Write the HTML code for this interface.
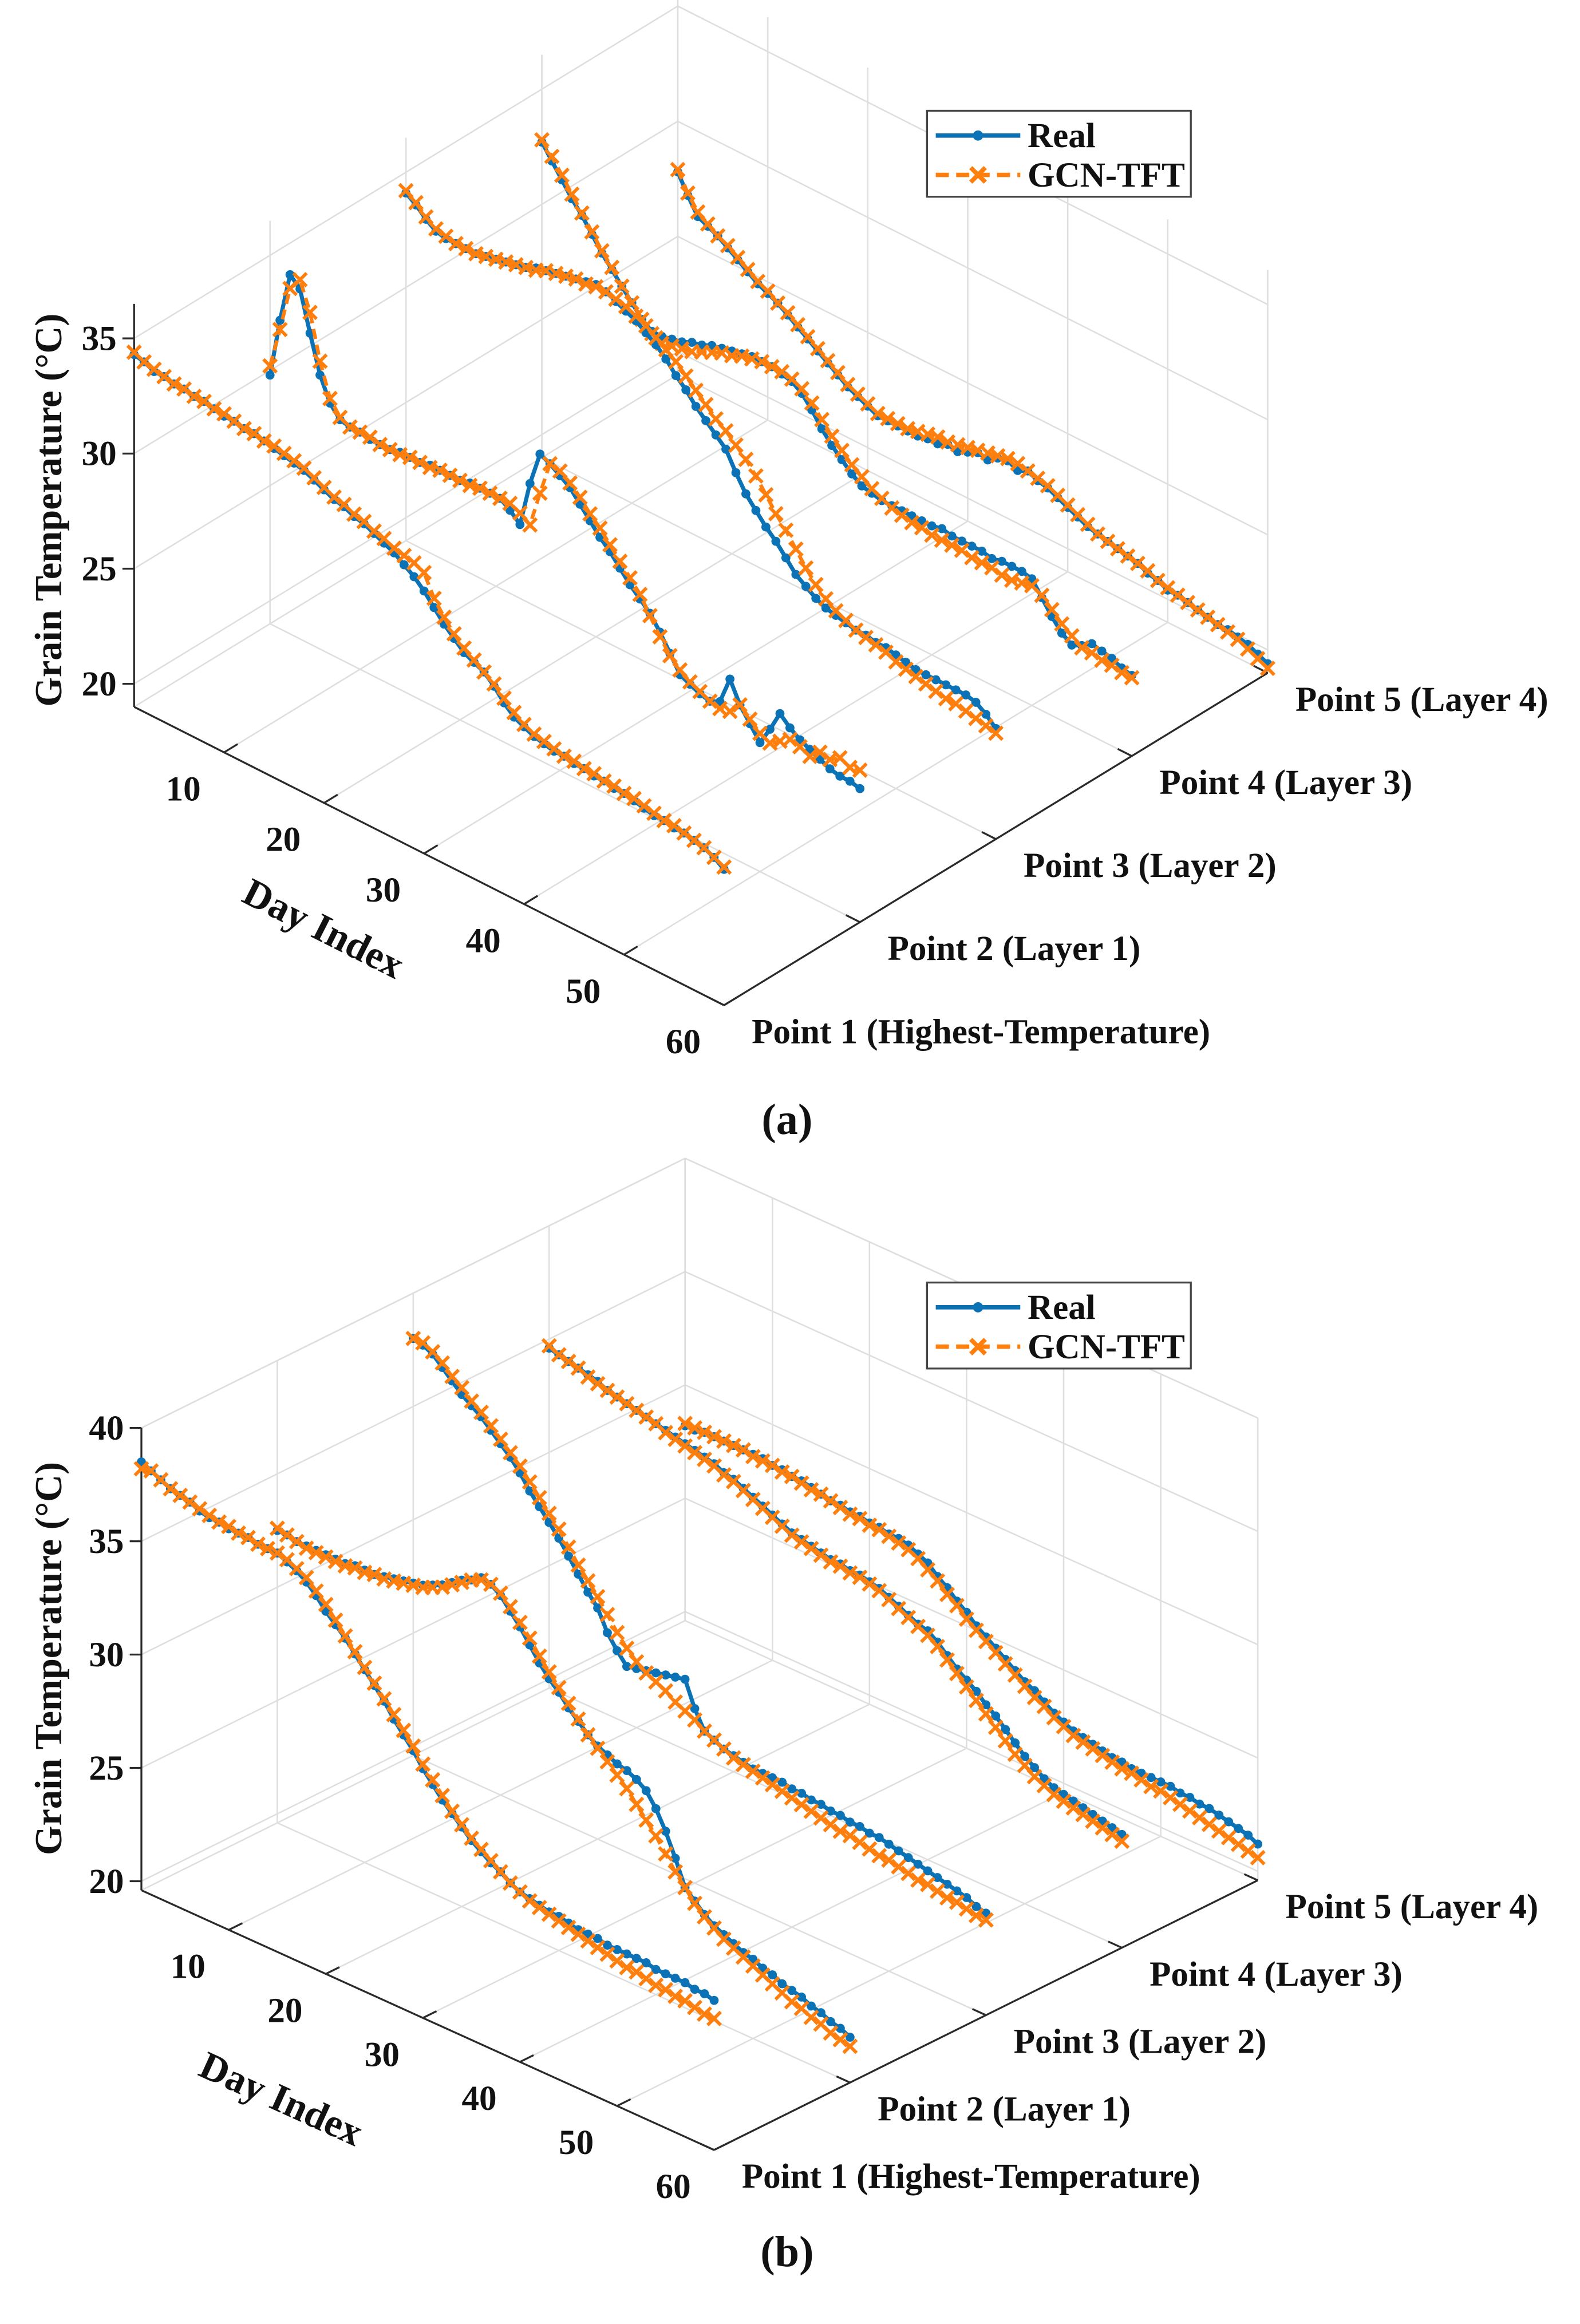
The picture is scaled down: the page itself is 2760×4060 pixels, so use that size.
<!DOCTYPE html>
<html><head><meta charset="utf-8">
<style>
html,body{margin:0;padding:0;background:#fff;}
svg{display:block;}
text{font-family:"Liberation Serif",serif;font-weight:bold;fill:#111;}
</style></head>
<body>
<svg id="fig" width="2760" height="4060" viewBox="0 0 1084 1594.6" preserveAspectRatio="none" xmlns="http://www.w3.org/2000/svg"></svg>
<script>
// ---- data: panel (a) ----
const days = Array.from({length:60},(_,i)=>i+1);
const pointLabels = ["Point 1 (Highest-Temperature)","Point 2 (Layer 1)","Point 3 (Layer 2)","Point 4 (Layer 3)","Point 5 (Layer 4)"];
const dayTicks = [10,20,30,40,50,60];
const zTicksA = [20,25,30,35];
const zTicksB = [20,25,30,35,40];

const aReal1=[34.3,34.2,34.0,34.0,33.9,33.9,33.8,33.8,33.7,33.6,33.6,33.5,33.5,33.4,33.3,33.2,33.1,33.0,32.8,32.6,32.4,32.3,32.1,32.0,31.8,31.6,31.4,31.1,30.8,30.4,29.9,29.4,29.0,28.6,28.4,28.2,27.8,27.3,26.9,26.7,26.5,26.4,26.3,26.3,26.2,26.2,26.1,26.1,26.0,26.0,25.9,25.8,25.7,25.7,25.6,25.6,25.5,25.4,25.2,24.9];
const aPred1=[34.4,34.2,34.1,34.0,33.9,33.9,33.8,33.8,33.7,33.7,33.6,33.5,33.5,33.4,33.4,33.3,33.2,33.1,32.9,32.7,32.5,32.4,32.2,32.1,31.9,31.8,31.6,31.5,31.4,31.2,30.3,29.7,29.2,28.8,28.5,28.2,27.9,27.5,27.1,26.8,26.6,26.5,26.4,26.3,26.3,26.2,26.2,26.1,26.1,26.0,26.0,25.9,25.8,25.7,25.7,25.6,25.5,25.4,25.2,25.0];
const aReal2=[29.8,32.4,34.6,34.2,32.5,30.9,29.9,29.4,29.3,29.3,29.2,29.2,29.2,29.3,29.3,29.3,29.4,29.4,29.4,29.4,29.5,29.5,29.5,29.5,29.2,28.8,30.8,32.3,32.1,31.8,31.5,31.0,30.5,30.0,29.6,29.1,28.6,28.2,27.8,27.2,26.5,25.8,25.6,25.4,25.3,25.5,26.7,25.8,25.2,24.6,25.4,26.3,25.9,25.6,25.4,25.2,25.0,24.9,24.9,24.8];
const aPred2=[30.2,32.0,34.0,34.6,33.4,31.5,30.1,29.5,29.3,29.3,29.3,29.2,29.2,29.2,29.3,29.3,29.3,29.4,29.4,29.4,29.4,29.5,29.5,29.5,29.5,29.3,29.0,30.6,32.1,32.0,31.7,31.3,30.8,30.4,29.9,29.4,28.9,28.4,27.7,27.0,26.4,26.0,25.7,25.5,25.3,25.2,25.3,25.8,25.4,25.0,24.8,25.1,25.4,25.3,25.1,25.5,25.4,25.7,25.5,25.6];
const aReal3=[34.1,33.8,33.4,33.1,33.0,33.0,33.0,33.0,33.1,33.2,33.3,33.4,33.5,33.7,33.8,33.9,34.0,34.1,34.2,34.3,34.2,34.0,33.8,33.6,33.3,33.0,32.6,32.1,31.7,31.2,30.8,30.4,30.0,29.2,28.5,28.0,27.5,27.1,26.6,26.1,25.8,25.5,25.3,25.2,25.1,25.0,25.0,24.9,24.9,24.8,24.7,24.6,24.6,24.6,24.6,24.6,24.6,24.5,24.2,23.8];
const aPred3=[34.2,33.9,33.5,33.2,33.1,33.0,33.0,33.0,33.1,33.2,33.3,33.4,33.5,33.6,33.8,33.9,34.0,34.1,34.1,34.2,34.2,34.1,34.0,33.8,33.6,33.3,33.0,32.7,32.3,31.9,31.5,31.1,30.8,30.4,30.0,29.5,28.9,28.3,27.8,27.2,26.6,26.1,25.7,25.4,25.2,25.0,24.9,24.8,24.7,24.5,24.4,24.3,24.2,24.1,24.0,24.0,23.9,23.8,23.7,23.6];
const aReal4=[32.7,32.1,31.5,30.9,30.4,29.8,29.2,28.7,28.2,27.7,27.2,26.9,26.9,27.0,27.1,27.3,27.4,27.6,27.7,27.8,27.9,28.0,28.0,28.0,27.9,27.8,27.5,27.0,26.4,25.9,25.5,25.1,24.8,24.7,24.6,24.6,24.6,24.6,24.6,24.6,24.7,24.6,24.6,24.6,24.6,24.5,24.6,24.6,24.6,24.5,23.9,23.3,22.8,22.5,22.7,23.0,22.9,22.8,22.6,22.5];
const aPred4=[32.8,32.3,31.7,31.1,30.5,29.9,29.3,28.8,28.2,27.7,27.2,26.8,26.6,26.7,26.8,26.9,27.1,27.3,27.5,27.6,27.8,27.9,28.0,28.0,28.0,27.9,27.7,27.3,26.8,26.3,25.9,25.5,25.2,24.9,24.7,24.5,24.4,24.3,24.3,24.2,24.2,24.2,24.2,24.1,24.1,24.1,24.0,24.0,24.1,24.2,24.0,23.6,23.2,22.9,22.6,22.6,22.5,22.5,22.4,22.4];
const aReal5=[27.8,27.0,26.3,26.1,25.9,25.6,25.3,25.0,24.7,24.5,24.3,24.0,23.7,23.4,23.1,22.8,22.5,22.2,22.0,21.8,21.6,21.6,21.6,21.6,21.6,21.7,21.7,21.9,21.8,22.0,22.2,22.1,22.4,22.5,22.3,22.5,22.3,22.2,22.0,21.8,21.6,21.4,21.3,21.2,21.1,21.0,20.9,20.7,20.6,20.4,20.4,20.3,20.2,20.1,20.0,20.0,19.9,19.8,19.6,19.4];
const aPred5=[27.9,27.1,26.5,26.2,25.9,25.7,25.4,25.1,24.8,24.6,24.3,24.1,23.8,23.5,23.2,22.9,22.6,22.3,22.1,21.9,21.7,21.7,21.7,21.7,21.8,21.9,22.0,22.0,22.1,22.2,22.3,22.4,22.5,22.6,22.6,22.5,22.4,22.3,22.1,21.9,21.7,21.5,21.3,21.2,21.1,21.0,20.9,20.8,20.6,20.5,20.4,20.3,20.2,20.1,20.0,19.9,19.8,19.6,19.4,19.2];

// ---- data: panel (b) ----
const bReal1=[38.5,38.3,38.1,37.9,37.8,37.7,37.5,37.4,37.4,37.3,37.3,37.3,37.2,37.2,37.2,37.0,36.8,36.5,36.1,35.6,35.2,34.8,34.3,33.8,33.3,32.8,32.2,31.7,31.2,30.6,30.1,29.6,29.2,28.8,28.4,28.1,27.8,27.6,27.3,27.1,27.0,26.9,26.8,26.8,26.7,26.6,26.6,26.6,26.5,26.5,26.5,26.5,26.5,26.4,26.4,26.4,26.4,26.3,26.3,26.2];
const bPred1=[38.2,38.3,38.1,37.9,37.8,37.7,37.6,37.5,37.4,37.4,37.3,37.3,37.2,37.2,37.2,37.1,36.9,36.7,36.3,35.9,35.4,34.9,34.4,33.9,33.4,32.9,32.4,31.9,31.4,30.8,30.3,29.8,29.3,28.9,28.5,28.2,27.9,27.6,27.3,27.1,26.9,26.8,26.7,26.6,26.5,26.4,26.3,26.2,26.1,26.0,25.9,25.9,25.8,25.7,25.7,25.6,25.6,25.5,25.4,25.4];
const bReal2=[32.5,32.5,32.4,32.4,32.4,32.4,32.4,32.4,32.5,32.5,32.5,32.6,32.7,32.8,32.9,33.0,33.2,33.4,33.7,34.0,34.2,34.5,34.4,34.1,33.6,33.1,32.5,31.9,31.4,31.0,30.5,30.1,29.7,29.4,29.2,29.0,28.9,28.7,28.4,27.8,27.0,26.0,24.9,24.5,24.1,23.8,23.6,23.4,23.2,23.1,22.9,22.8,22.6,22.5,22.4,22.2,22.1,21.9,21.8,21.6];
const bPred2=[32.6,32.5,32.4,32.3,32.3,32.3,32.3,32.3,32.4,32.4,32.5,32.5,32.6,32.7,32.8,32.9,33.1,33.3,33.6,33.9,34.2,34.4,34.4,34.2,33.8,33.3,32.8,32.2,31.7,31.2,30.7,30.2,29.7,29.3,28.9,28.5,28.1,27.6,27.1,26.6,26.0,25.4,24.9,24.4,24.0,23.7,23.4,23.2,23.0,22.8,22.6,22.4,22.2,22.0,21.9,21.7,21.6,21.4,21.3,21.2];
const bReal3=[38.0,37.9,37.7,37.3,36.9,36.5,36.2,35.9,35.5,35.1,34.7,34.2,33.6,33.1,32.6,32.1,31.5,30.9,30.3,29.8,28.9,28.3,27.8,27.9,28.0,28.1,28.2,28.3,28.4,27.3,26.5,26.3,26.1,26.0,25.9,25.8,25.8,25.8,25.8,25.7,25.7,25.6,25.6,25.5,25.5,25.4,25.4,25.3,25.3,25.2,25.1,25.0,24.9,24.8,24.7,24.6,24.5,24.4,24.2,24.1];
const bPred3=[38.0,38.0,37.8,37.5,37.1,36.8,36.4,36.1,35.7,35.3,34.9,34.5,34.0,33.5,33.0,32.5,31.9,31.3,30.8,30.3,29.7,29.1,28.6,28.2,27.9,27.7,27.5,27.2,27.0,26.8,26.5,26.3,26.1,25.9,25.8,25.7,25.6,25.5,25.4,25.3,25.2,25.1,25.0,24.9,24.8,24.8,24.7,24.6,24.5,24.5,24.4,24.3,24.2,24.2,24.1,24.0,24.0,23.9,23.8,23.8];
const bReal4=[34.6,34.5,34.4,34.3,34.2,34.1,33.9,33.8,33.7,33.6,33.5,33.4,33.3,33.2,33.1,33.0,32.9,32.8,32.6,32.5,32.3,32.1,31.9,31.7,31.5,31.3,31.2,31.1,31.0,30.9,30.9,30.8,30.8,30.7,30.6,30.4,30.2,30.0,29.8,29.7,29.4,29.0,28.6,28.3,28.0,27.6,27.3,26.9,26.5,26.1,25.8,25.5,25.3,25.2,25.1,25.0,24.9,24.8,24.7,24.6];
const bPred4=[34.7,34.5,34.4,34.3,34.1,34.0,33.9,33.8,33.7,33.6,33.5,33.4,33.2,33.1,33.0,32.9,32.8,32.7,32.5,32.4,32.2,32.0,31.8,31.6,31.4,31.2,31.1,31.0,30.9,30.8,30.8,30.7,30.7,30.6,30.5,30.3,30.1,29.9,29.7,29.5,29.2,28.8,28.4,28.0,27.6,27.2,26.8,26.4,26.0,25.7,25.4,25.2,25.0,24.9,24.8,24.7,24.6,24.5,24.4,24.3];
const bReal5=[28.2,28.2,28.3,28.3,28.3,28.3,28.3,28.3,28.3,28.2,28.2,28.1,28.1,28.0,27.9,27.8,27.8,27.7,27.7,27.6,27.6,27.5,27.5,27.4,27.2,27.0,26.6,26.3,25.9,25.6,25.2,24.9,24.6,24.3,24.0,23.7,23.5,23.2,22.9,22.7,22.5,22.4,22.3,22.2,22.1,22.1,22.0,22.0,22.0,22.0,22.0,21.9,21.9,21.8,21.8,21.7,21.6,21.5,21.4,21.2];
const bPred5=[28.3,28.3,28.3,28.3,28.3,28.3,28.3,28.2,28.2,28.2,28.1,28.1,28.0,27.9,27.9,27.8,27.7,27.6,27.6,27.5,27.5,27.4,27.3,27.2,27.0,26.7,26.4,26.0,25.7,25.3,25.0,24.7,24.4,24.1,23.8,23.5,23.2,23.0,22.7,22.5,22.3,22.2,22.1,22.0,21.9,21.8,21.8,21.7,21.6,21.6,21.5,21.4,21.3,21.2,21.1,21.0,20.9,20.8,20.7,20.6];

const realA=[aReal1,aReal2,aReal3,aReal4,aReal5];
const predA=[aPred1,aPred2,aPred3,aPred4,aPred5];
const realB=[bReal1,bReal2,bReal3,bReal4,bReal5];
const predB=[bPred1,bPred2,bPred3,bPred4,bPred5];

const BLUE="#0a72b5", ORANGE="#ff7f0e", GRID="#dedede", AX="#2a2a2a";
const NS="http://www.w3.org/2000/svg";
const svg=document.getElementById('fig');
function el(tag,attrs,parent){const e=document.createElementNS(NS,tag);for(const k in attrs)e.setAttribute(k,attrs[k]);(parent||svg).appendChild(e);return e;}

const panels=[
 {id:'a',ox:92,oy:485,edx:6.86,edy:3.47,epx:93.25,epy:-57,ez:15.8,zmin:19,zmax:36.5,zt:zTicksA,real:realA,pred:predA,
  ztitle:[33,350],dtitle:[222,637],legY:76,cap:[540,768]},
 {id:'b',ox:97,oy:1297,edx:6.66,edy:3.02,epx:93.25,epy:-46.25,ez:15.55,zmin:19.6,zmax:40,zt:zTicksB,real:realB,pred:predB,
  ztitle:[33,1138],dtitle:[193,1440],legY:880,cap:[540,1545]}
];

panels.forEach(P=>{
 const X=(d,p,z)=>P.ox+(d-1)*P.edx+(p-1)*P.epx;
 const Y=(d,p,z)=>P.oy+(d-1)*P.edy+(p-1)*P.epy-(z-P.zmin)*P.ez;
 const g=el('g',{});
 
 
 const grid=el('g',{stroke:GRID,'stroke-width':1,fill:'none'},g);
 
 
 const line=(a,b,par,attrs)=>el('line',Object.assign({x1:X(...a),y1:Y(...a),x2:X(...b),y2:Y(...b)},attrs||{}),par);
 for(let p=2;p<=5;p++) line([1,p,P.zmin],[60,p,P.zmin],grid);
 [1].concat(dayTicks).forEach(d=>line([d,1,P.zmin],[d,5,P.zmin],grid));
 for(let p=1;p<=5;p++) line([1,p,P.zmin],[1,p,P.zmax],grid);
 P.zt.forEach(z=>line([1,1,z],[1,5,z],grid));
 [1].concat(dayTicks).forEach(d=>line([d,5,P.zmin],[d,5,P.zmax],grid));
 P.zt.forEach(z=>line([1,5,z],[60,5,z],grid));
 if(P.id==='b'){line([1,1,P.zmax],[1,5,P.zmax],grid);line([1,5,P.zmax],[60,5,P.zmax],grid);}
 const ax=el('g',{stroke:AX,'stroke-width':1.3},g);
 
 
 line([1,1,P.zmin],[60,1,P.zmin],ax);
 line([60,1,P.zmin],[60,5,P.zmin],ax);
 line([1,1,P.zmin],[1,1,P.zmax],ax);
 dayTicks.forEach(d=>line([d,1,P.zmin],[d,1.1,P.zmin],ax));
 for(let p=1;p<=5;p++) line([60,p,P.zmin],[58.6,p,P.zmin],ax);
 P.zt.forEach(z=>el('line',{x1:X(1,1,z)-8,y1:Y(1,1,z),x2:X(1,1,z),y2:Y(1,1,z)},ax));
 P.zt.forEach(z=>{const t=el('text',{x:X(1,1,z)-12,y:Y(1,1,z)+8,'text-anchor':'end','font-size':24},g);t.textContent=z;
  
  });
 dayTicks.forEach(d=>{const t=el('text',{x:X(d,1,P.zmin)-28,y:Y(d,1,P.zmin)+33,'text-anchor':'middle','font-size':24},g);t.textContent=d;
  
  });
 pointLabels.forEach((s,i)=>{const t=el('text',{x:X(60,i+1,P.zmin)+19,y:Y(60,i+1,P.zmin)+26,'font-size':24},g);t.textContent=s;
  
  });
 const zt=el('text',{x:P.ztitle[0],y:P.ztitle[1],'text-anchor':'middle','font-size':26,transform:`rotate(-90 ${P.ztitle[0]} ${P.ztitle[1]})`,dy:9},g);
 zt.textContent='Grain Temperature (°C)';
 
 
 const ang=Math.atan2(P.edy,P.edx)*180/Math.PI;
 const dt=el('text',{x:P.dtitle[0],y:P.dtitle[1],'text-anchor':'middle','font-size':27,transform:`rotate(${ang} ${P.dtitle[0]} ${P.dtitle[1]})`,dy:9},g);
 dt.textContent='Day Index';
 
 
 for(let p=5;p>=1;p--){
  const r=P.real[p-1], q=P.pred[p-1];
  const sg=el('g',{},g);
  
  
  const rp=days.map((d,i)=>X(d,p,r[i]).toFixed(1)+','+Y(d,p,r[i]).toFixed(1)).join(' ');
  const rl=el('polyline',{points:rp,fill:'none',stroke:BLUE,'stroke-width':2.8,'stroke-linejoin':'round'},sg);
  
  
  days.forEach((d,i)=>{const c=el('circle',{cx:X(d,p,r[i]),cy:Y(d,p,r[i]),r:3.1,fill:BLUE},sg);
   
   });
  const qp=days.map((d,i)=>X(d,p,q[i]).toFixed(1)+','+Y(d,p,q[i]).toFixed(1)).join(' ');
  const pl=el('polyline',{points:qp,fill:'none',stroke:ORANGE,'stroke-width':2.5,'stroke-dasharray':'7,4'},sg);
  
  
  days.forEach((d,i)=>{const cx=X(d,p,q[i]),cy=Y(d,p,q[i]);
   const m=el('path',{d:`M${cx-4.5},${cy-4.5}L${cx+4.5},${cy+4.5}M${cx-4.5},${cy+4.5}L${cx+4.5},${cy-4.5}`,stroke:ORANGE,'stroke-width':2.3},sg);
   
   });
 }
 const L=el('g',{},g);
 
 
 const ly=P.legY;
 el('rect',{x:636,y:ly,width:181,height:59,fill:'#fff',stroke:'#444','stroke-width':1.3},L);
 el('line',{x1:642,y1:ly+17,x2:700,y2:ly+17,stroke:BLUE,'stroke-width':3},L);
 el('circle',{cx:671,cy:ly+17,r:3.5,fill:BLUE},L);
 el('line',{x1:642,y1:ly+44,x2:700,y2:ly+44,stroke:ORANGE,'stroke-width':3,'stroke-dasharray':'9,5'},L);
 el('path',{d:`M${666},${ly+39}L${676},${ly+49}M${666},${ly+49}L${676},${ly+39}`,stroke:ORANGE,'stroke-width':3},L);
 const t1=el('text',{x:705,y:ly+25,'font-size':24},L);t1.textContent='Real';
 
 
 const t2=el('text',{x:705,y:ly+52,'font-size':24},L);t2.textContent='GCN-TFT';
 
 
 const cap=el('text',{x:P.cap[0],y:P.cap[1]+10,'text-anchor':'middle','font-size':30,'font-weight':'normal'},g);
 cap.innerHTML='(<tspan font-weight="bold">'+P.id+'</tspan>)';
 
 
});
</script>
</body></html>
